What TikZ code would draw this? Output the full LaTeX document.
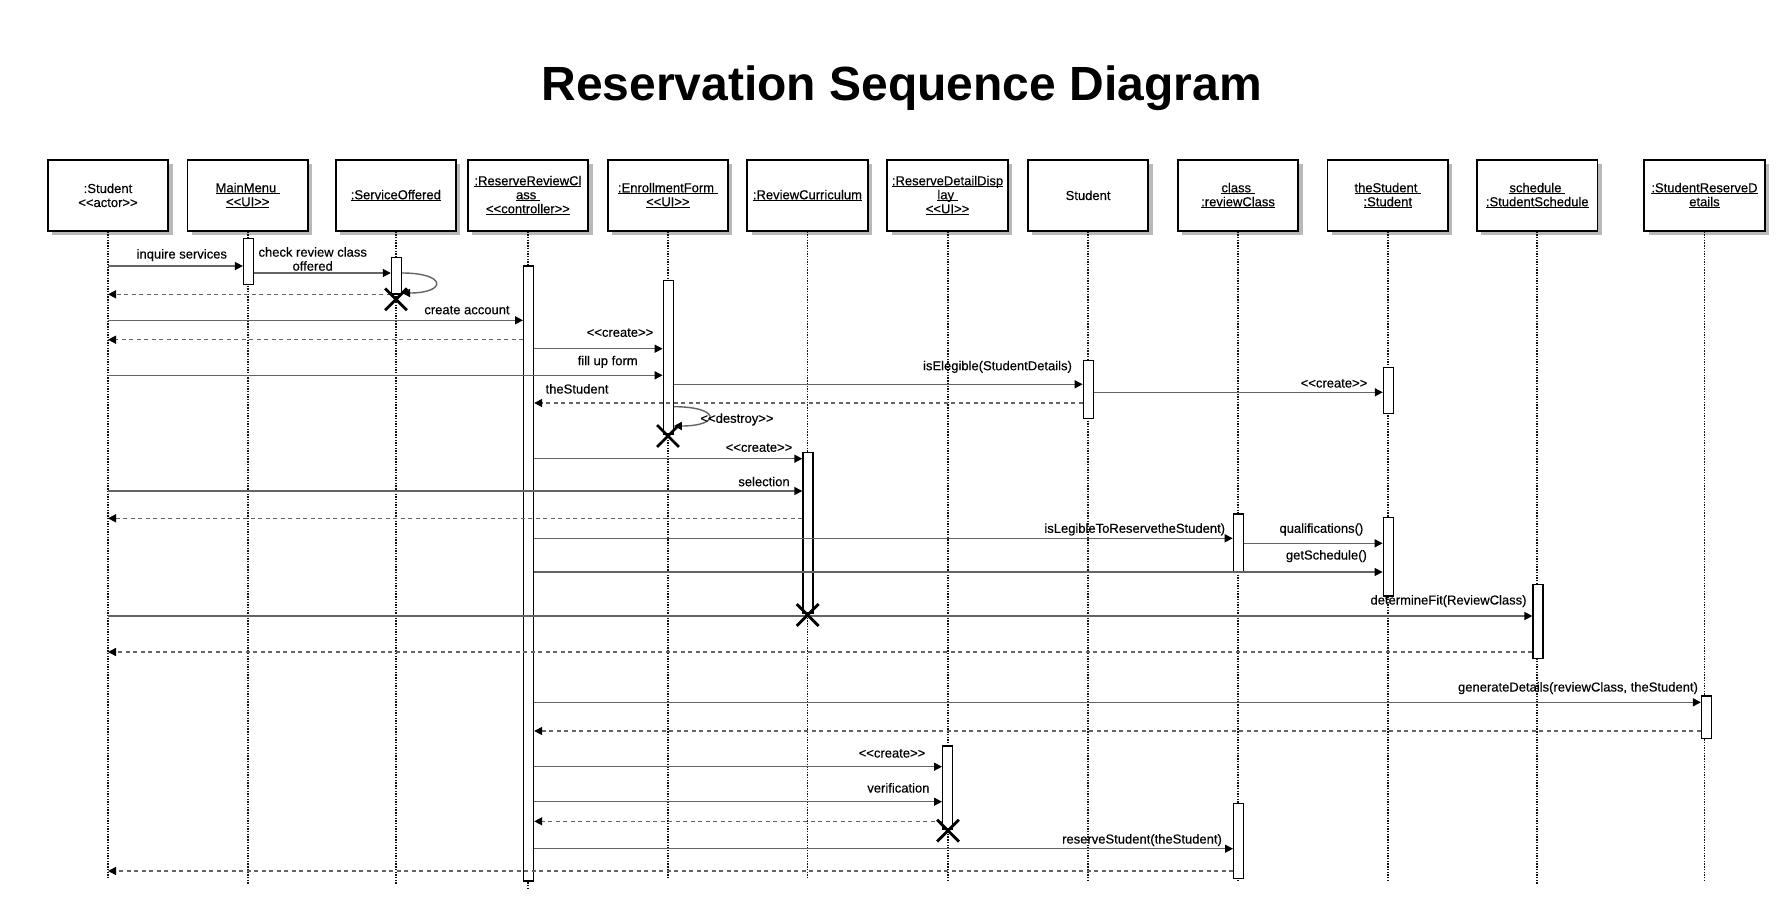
\documentclass[tikz,border=0pt]{standalone}
\usepackage{fontspec}
\setmainfont{Liberation Sans}
\newfontfamily\lsans{Liberation Sans}[FakeBold=0.35]
\usetikzlibrary{arrows.meta,shapes.misc,shadows}
\definecolor{msgc}{RGB}{100,100,100}
\definecolor{lifec}{RGB}{20,20,20}
\definecolor{shadowc}{RGB}{185,185,185}
\newsavebox{\ulbox}
\newcommand{\uln}[1]{\sbox{\ulbox}{#1}\rlap{\rule[-1.6pt]{\wd\ulbox}{0.8pt}}\usebox{\ulbox}}
\newcommand{\lblfont}{\lsans\fontsize{13}{14}\selectfont}
\newcommand{\ttlfont}{\fontsize{48}{56}\selectfont\bfseries}
\tikzset{
  obj/.style={draw=black, line width=1.8pt, fill=white, minimum width=120.5pt,
    minimum height=70.7pt, inner sep=0pt, align=center, font=\lblfont,
    drop shadow={shadow xshift=4.3pt, shadow yshift=-4.3pt, fill=shadowc, opacity=1}},
  life/.style={draw=lifec, line width=1.9pt, dash pattern=on 1.4pt off 1.3pt},
  act/.style={draw=black, fill=white, line width=1.2pt, minimum width=10pt, inner sep=0pt},
  msg/.style={draw=msgc, line width=1.4pt, -{Triangle[length=8pt,width=8pt,color=black]}},
  ret/.style={msg, dash pattern=on 4pt off 3.5pt},
  lbl/.style={font=\lblfont, text height=9.5pt, text depth=2.5pt, inner sep=0pt},
  lblm/.style={font=\lblfont, inner sep=0pt, align=center},
  xmark/.style={cross out, draw=black, line width=2.8pt, minimum size=19pt, inner sep=0pt}
}
\begin{document}
\begin{tikzpicture}[x=1pt,y=-1pt]
\fill[white] (0,0) rectangle (1784,915);
\path[use as bounding box] (0,0) rectangle (1784,915);

% title
\node[font=\ttlfont, anchor=base, inner sep=0pt] (title) at (901.7,101) {Reservation Sequence Diagram};

% objects
\node[obj] (b1) at (108,195.35) {:Student\\<<actor>>};
\node[obj] (b2) at (247.75,195.35) {\uln{MainMenu\ }\\\uln{<<UI>>}};
\node[obj] (b3) at (395.85,195.35) {\uln{:ServiceOffered}};
\node[obj] (b4) at (527.95,195.35) {\uln{:ReserveReviewCl}\\\uln{ass\ }\\\uln{<<controller>>}};
\node[obj] (b5) at (667.85,195.35) {\uln{:EnrollmentForm\ }\\\uln{<<UI>>}};
\node[obj] (b6) at (807.45,195.35) {\uln{:ReviewCurriculum}};
\node[obj] (b7) at (947.55,195.35) {\uln{:ReserveDetailDisp}\\\uln{lay\ }\\\uln{<<UI>>}};
\node[obj] (b8) at (1088.05,195.35) {Student};
\node[obj] (b9) at (1238.05,195.35) {\uln{class\ }\\\uln{:reviewClass}};
\node[obj] (b10) at (1387.75,195.35) {\uln{theStudent\ }\\\uln{:Student}};
\node[obj] (b11) at (1537.25,195.35) {\uln{schedule\ }\\\uln{:StudentSchedule}};
\node[obj] (b12) at (1704.45,195.35) {\uln{:StudentReserveD}\\\uln{etails}};

% lifelines
\draw[life] (b1.south) -- (b1.south |- 0,879);
\draw[life] (b2.south) -- (b2.south |- 0,884);
\draw[life] (b3.south) -- (b3.south |- 0,884);
\draw[life] (b4.south) -- (b4.south |- 0,888);
\draw[life] (b5.south) -- (b5.south |- 0,879);
\draw[life] (b6.south) -- (b6.south |- 0,879);
\draw[life] (b7.south) -- (b7.south |- 0,881);
\draw[life] (b8.south) -- (b8.south |- 0,880);
\draw[life] (b9.south) -- (b9.south |- 0,880);
\draw[life] (b10.south) -- (b10.south |- 0,880);
\draw[life] (b11.south) -- (b11.south |- 0,884);
\draw[life] (b12.south) -- (b12.south |- 0,880);

% activations
\node[act, minimum height=46pt] (a1) at (248.5,261.3) {};
\node[act, minimum height=36.7pt] (a2) at (396.4,275.65) {};
\node[act, minimum height=615pt] (a3) at (528.6,573.5) {};
\node[act, minimum height=153.7pt] (a4) at (668.2,357.15) {};
\node[act, minimum height=58pt] (a5) at (1088.2,389.3) {};
\node[act, minimum height=45.6pt] (a6) at (1388.4,390.5) {};
\node[act, minimum height=160.3pt] (a7) at (807.9,532.85) {};
\node[act, minimum height=58.3pt] (a8) at (1238.3,543.15) {};
\node[act, minimum height=78.3pt] (a9) at (1388.2,556.85) {};
\node[act, minimum height=74pt] (a10) at (1538,621.7) {};
\node[act, minimum height=42.7pt] (a11) at (1706.5,717.35) {};
\node[act, minimum height=83pt] (a12) at (947.6,787.5) {};
\node[act, minimum height=75pt] (a13) at (1238.6,840.8) {};

% messages
\draw[msg] (b1.south |- 0,266) -- (a1.west |- 0,266);
\draw[msg] (a1.east |- 0,273) -- (a2.west |- 0,273);
\draw[msg] (a2.east |- 0,273) .. controls +(45,0) and +(45,0) .. (a2.east |- 0,293);
\draw[ret] (a2.west |- 0,294.3) -- (b1.south |- 0,294.3);
\draw[msg] (b1.south |- 0,320.3) -- (a3.west |- 0,320.3);
\draw[ret] (a3.west |- 0,339.7) -- (b1.south |- 0,339.7);
\draw[msg] (a3.east |- 0,348.7) -- (a4.west |- 0,348.7);
\draw[msg] (b1.south |- 0,375.3) -- (a4.west |- 0,375.3);
\draw[msg] (a4.east |- 0,384.3) -- (a5.west |- 0,384.3);
\draw[msg] (a5.east |- 0,392.3) -- (a6.west |- 0,392.3);
\draw[ret] (a5.west |- 0,403) -- (a3.east |- 0,403);
\draw[msg] (a4.east |- 0,406.7) .. controls +(47,0) and +(47,0) .. (a4.east |- 0,426);
\draw[msg] (a3.east |- 0,458.7) -- (a7.west |- 0,458.7);
\draw[msg] (b1.south |- 0,491) -- (a7.west |- 0,491);
\draw[ret] (a7.west |- 0,518.3) -- (b1.south |- 0,518.3);
\draw[msg] (a3.east |- 0,538.3) -- (a8.west |- 0,538.3);
\draw[msg] (a8.east |- 0,543.3) -- (a9.west |- 0,543.3);
\draw[msg] (a3.east |- 0,572) -- (a9.west |- 0,572);
\draw[msg] (b1.south |- 0,616) -- (a10.west |- 0,616);
\draw[ret] (a10.west |- 0,652) -- (b1.south |- 0,652);
\draw[msg] (a3.east |- 0,702.3) -- (a11.west |- 0,702.3);
\draw[ret] (a11.west |- 0,731) -- (a3.east |- 0,731);
\draw[msg] (a3.east |- 0,766.7) -- (a12.west |- 0,766.7);
\draw[msg] (a3.east |- 0,801.7) -- (a12.west |- 0,801.7);
\draw[ret] (a12.west |- 0,821.3) -- (a3.east |- 0,821.3);
\draw[msg] (a3.east |- 0,848.7) -- (a13.west |- 0,848.7);
\draw[ret] (a13.west |- 0,871) -- (b1.south |- 0,871);

% destruction marks
\node[xmark] (x1) at (396,299.3) {};
\node[xmark] (x2) at (668,436) {};
\node[xmark] (x3) at (807.7,615) {};
\node[xmark] (x4) at (948,830.7) {};

% labels
\node[lbl] (t1) at (181.8,255) {inquire services};
\node[lblm] (t2) at (312.7,259) {check review class\\offered};
\node[lbl] (t3) at (467,310.7) {create account};
\node[lbl] (t4) at (620,333.3) {<<create>>};
\node[lbl] (t5) at (607.7,361.7) {fill up form};
\node[lbl] (t6) at (997.5,366.7) {isElegible(StudentDetails)};
\node[lbl] (t7) at (1334,384) {<<create>>};
\node[lbl, anchor=west] (t8) at (545.4,390) {theStudent};
\node[lbl] (t9) at (737,419.3) {<<destroy>>};
\node[lbl] (t10) at (759,448.3) {<<create>>};
\node[lbl] (t11) at (764,482.7) {selection};
\node[lbl] (t12) at (1134.7,529.3) {isLegibleToReservetheStudent)};
\node[lbl] (t13) at (1321.4,529.3) {qualifications()};
\node[lbl] (t14) at (1326.4,556) {getSchedule()};
\node[lbl] (t15) at (1448.5,601) {determineFit(ReviewClass)};
\node[lbl] (t16) at (1578,688) {generateDetails(reviewClass, theStudent)};
\node[lbl] (t17) at (892,754) {<<create>>};
\node[lbl] (t18) at (898.4,789) {verification};
\node[lbl] (t19) at (1142,840) {reserveStudent(theStudent)};
\end{tikzpicture}
\end{document}
